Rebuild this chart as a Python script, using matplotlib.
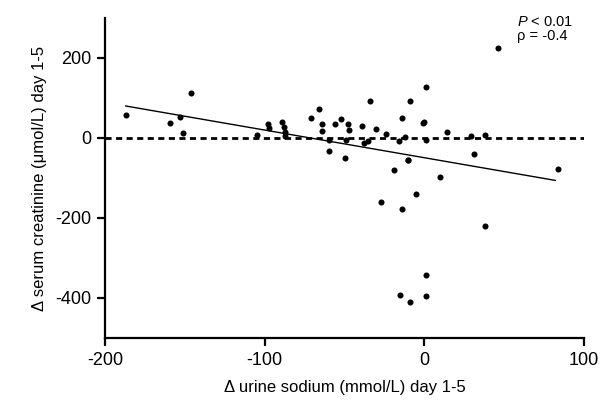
import matplotlib
matplotlib.use("Agg")
import matplotlib.pyplot as plt
import numpy as np

plt.rcParams['font.family'] = ['Liberation Sans', 'DejaVu Sans']
plt.rcParams['axes.unicode_minus'] = False
plt.rcParams['mathtext.fontset'] = 'custom'
plt.rcParams['mathtext.it'] = 'Liberation Sans:italic'
plt.rcParams['mathtext.rm'] = 'Liberation Sans'

urine_sodium = [-187, -159, -153, -151, -146, -105, -98, -97.5, -89, -88, -87, -87,
                -71, -66, -64, -64, -60, -60, -56, -52, -48, -47, -49, -50,
                -39, -34, -38, -35, -30, -24, -16, -14, -12, -9, -10, -1, 0, 1, 1,
                14, 29, 31, 38, 46, 10, 38, 84,
                -19, -27, -14, -5, -10,
                1, -15, -9, 1]
serum_creat = [58, 37, 52, 12, 112, 8, 36, 25, 39, 28, 15, 5,
               50, 72, 35, 17, -6, -33, 36, 48, 36, 19, -6, -50,
               29, 92, -13, -8, 23, 9, -8, 51, 2.5, 92, -54, 37, 41, 127, -6,
               15, 6, -40, 8, 224, -97, -221, -78,
               -80, -159, -178, -141, -55,
               -343, -393, -409, -396]

fit_x = [-187, 82]
fit_y = [80, -106]

x_ticks = [-200, -100, 0, 100]
y_ticks = [-400, -200, 0, 200]

fig = plt.figure(figsize=(6.09, 4.00), dpi=100)
ax = fig.add_axes([0.1724, 0.155, 0.959 - 0.1724, 0.955 - 0.155])

ax.scatter(urine_sodium, serum_creat, s=19, color='black', zorder=3, linewidths=0)
ax.plot([-200, 100], [0, 0], color='black', lw=2.0, ls=(0, (2.2, 1.6)), zorder=2)
ax.plot(fit_x, fit_y, color='black', lw=1.0, zorder=2)

ax.set_xlim(-200, 100)
ax.set_ylim(-500, 300)
ax.set_xticks(x_ticks)
ax.set_yticks(y_ticks)
ax.tick_params(axis='both', direction='out', length=6, width=1.6, labelsize=13, pad=4)

for s in ['top', 'right']:
    ax.spines[s].set_visible(False)
for s in ['left', 'bottom']:
    ax.spines[s].set_linewidth(1.6)

ax.set_xlabel('Δ urine sodium (mmol/L) day 1-5', fontsize=12, labelpad=8)
ax.set_ylabel('Δ serum creatinine (μmol/L) day 1-5', fontsize=12, labelpad=6)

fig.text(517 / 609, 1 - 22 / 400, r'$\it{P}$ < 0.01', fontsize=10.5, va='center', ha='left')
fig.text(517 / 609, 1 - 36 / 400, 'ρ = -0.4', fontsize=10.5, va='center', ha='left')

fig.savefig('out.png', dpi=100)
